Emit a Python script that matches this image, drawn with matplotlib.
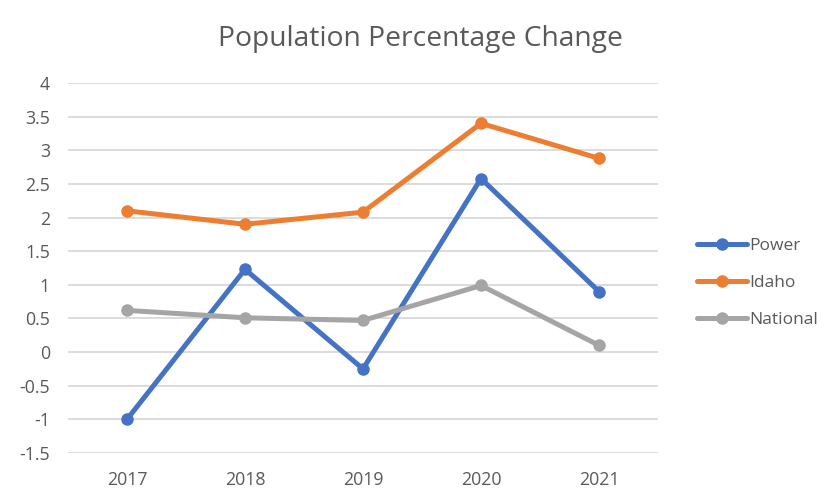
import matplotlib
matplotlib.use("Agg")
import matplotlib.pyplot as plt
import numpy as np

plt.rcParams['font.family'] = ['Open Sans', 'DejaVu Sans']

years = ["2017", "2018", "2019", "2020", "2021"]
power = [-1.0, 1.23, -0.25, 2.58, 0.90]
idaho = [2.10, 1.90, 2.08, 3.40, 2.88]
national = [0.62, 0.51, 0.47, 0.99, 0.10]
yticks = [-1.5, -1, -0.5, 0, 0.5, 1, 1.5, 2, 2.5, 3, 3.5, 4]
ytick_labels = ["-1.5", "-1", "-0.5", "0", "0.5", "1", "1.5", "2", "2.5", "3", "3.5", "4"]

fig = plt.figure(figsize=(8.26, 4.97), dpi=100)
ax = fig.add_axes([68/826, 1-453/497, (658-68)/826, (453-83)/497])

x = np.arange(len(years))
series = [("Power", power, "#4472C4"), ("Idaho", idaho, "#ED7D31"), ("National", national, "#A5A5A5")]
for name, vals, col in series:
    ax.plot(x, vals, color=col, lw=3.6, marker='o', ms=8, label=name, solid_capstyle='round')

ax.set_xlim(-0.5, len(years) - 0.5)
ax.set_ylim(-1.5, 4)
ax.set_xticks(x)
ax.set_xticklabels(years)
ax.set_yticks(yticks)
ax.set_yticklabels(ytick_labels)
ax.grid(axis='y', color='#D9D9D9', lw=1.3)
ax.set_axisbelow(True)
for s in ax.spines.values():
    s.set_visible(False)
ax.tick_params(axis='both', length=0, labelsize=12.8, colors='#595959')
ax.tick_params(axis='y', pad=13)
ax.tick_params(axis='x', pad=13)

fig.text(420/826, 1-39/497, "Population Percentage Change", ha='center', va='center',
         fontsize=20.3, color='#595959')

leg = ax.legend(loc='center left', bbox_to_anchor=(681/826, 1-283/497), bbox_transform=fig.transFigure,
                frameon=False, fontsize=12.5, handlelength=2.9, labelspacing=1.2, handletextpad=0.12)
for t in leg.get_texts():
    t.set_color('#595959')

fig.savefig("out.png", dpi=100)
